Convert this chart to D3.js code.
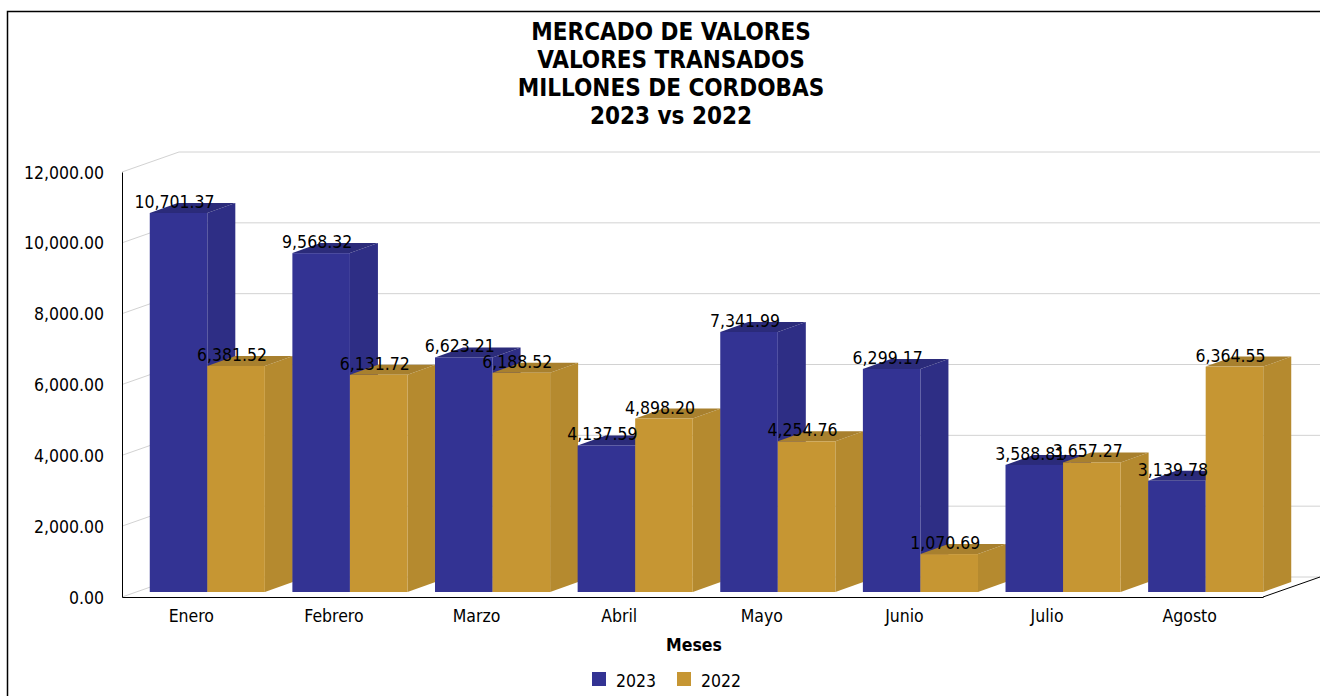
<!DOCTYPE html>
<html lang="en">
<head>
<meta charset="utf-8">
<title>Mercado de valores</title>
<script src="https://d3js.org/d3.v7.min.js"></script>
<style>
html, body { margin: 0; padding: 0; background: #fff; overflow: hidden; }
text { font-family: "DejaVu Sans", sans-serif; font-stretch: condensed; fill: #000; }
</style>
</head>
<body>
<script>
var months = ["Enero", "Febrero", "Marzo", "Abril", "Mayo", "Junio", "Julio", "Agosto"];
var values2023 = [10701.37, 9568.32, 6623.21, 4137.59, 7341.99, 6299.17, 3588.81, 3139.78];
var values2022 = [6381.52, 6131.72, 6188.52, 4898.20, 4254.76, 1070.69, 3657.27, 6364.55];
var seriesNames = ["2023", "2022"];
var yTicks = [0, 2000, 4000, 6000, 8000, 10000, 12000];
var titleLines = ["MERCADO DE VALORES", "VALORES TRANSADOS", "MILLONES DE CORDOBAS", "2023 vs 2022"];

var w = 1320, h = 696;
var left = 122, right = 1263, top3d = 172, bottom = 597;
// depth of the back wall, and of the bars
var wallX = 57, wallY = -20;
var barX = 28, barY = -10;
var frontX = 14, frontY = -5;

var colors = {
  "2023": { front: "#333393", side: "#2e2e85", top: "#2b2b7a" },
  "2022": { front: "#c69633", side: "#b58a2f", top: "#a8802e" }
};

var svg = d3.select("body").append("svg").attr("width", w).attr("height", h).style("display", "block");

// chart frame
svg.append("rect").attr("x", 7.5).attr("y", 11.5).attr("width", 1400).attr("height", 800)
  .attr("fill", "none").attr("stroke", "#000").attr("stroke-width", 1.5);

var x = d3.scaleBand().domain(months).range([left, right]).paddingInner(0.193).paddingOuter(0.0965);
var y = d3.scaleLinear().domain([0, 12000]).range([bottom, top3d]);
var xSeries = d3.scaleBand().domain(seriesNames).range([0, x.bandwidth()]);

// grid on the back wall + left wall
var grid = svg.append("g");
grid.selectAll(".back").data(yTicks).enter().append("line")
  .attr("x1", left + wallX).attr("x2", right + wallX)
  .attr("y1", function(d) { return y(d) + wallY; })
  .attr("y2", function(d) { return y(d) + wallY; })
  .attr("stroke", "#d2d2d2");
grid.selectAll(".wall").data(yTicks).enter().append("line")
  .attr("x1", left).attr("x2", left + wallX)
  .attr("y1", function(d) { return y(d); })
  .attr("y2", function(d) { return y(d) + wallY; })
  .attr("stroke", "#d2d2d2");

// axes
var yAxis = d3.axisLeft(y).tickValues(yTicks).tickSize(0).tickPadding(18).tickFormat(d3.format(",.2f"));
var gy = svg.append("g").attr("transform", "translate(" + left + ",0)").call(yAxis);
gy.select(".domain").attr("stroke", "#000");
gy.selectAll("text").attr("font-size", 17.5).attr("dy", "0.35em");
gy.attr("font-family", null);

var xAxis = d3.axisBottom(x).tickSize(0).tickPadding(13);
var gx = svg.append("g").attr("transform", "translate(0," + bottom + ")").call(xAxis);
gx.select(".domain").attr("stroke", "#000");
gx.selectAll("text").attr("font-size", 17.5).attr("dx", -2);
gx.attr("font-family", null);
svg.append("line")
  .attr("x1", right).attr("y1", bottom).attr("x2", right + wallX).attr("y2", bottom + wallY)
  .attr("stroke", "#000");

// bars, left to right so each one covers the side of the previous one
var rows = [];
months.forEach(function(m, i) {
  rows.push({ month: m, name: "2023", value: values2023[i] });
  rows.push({ month: m, name: "2022", value: values2022[i] });
});
var bx = function(d) { return x(d.month) + xSeries(d.name) + frontX; };
var by = function(d) { return y(d.value) + frontY; };
var base = y(0) + frontY;
var bw = xSeries.bandwidth();

var bars = svg.append("g").selectAll("g").data(rows).enter().append("g");
bars.append("path")
  .attr("fill", function(d) { return colors[d.name].side; })
  .attr("d", function(d) {
    var x1 = bx(d) + bw, t = by(d);
    return "M" + x1 + "," + t + "L" + (x1 + barX) + "," + (t + barY) + "L" + (x1 + barX) + "," + (base + barY) + "L" + x1 + "," + base + "Z";
  });
bars.append("path")
  .attr("fill", function(d) { return colors[d.name].top; })
  .attr("d", function(d) {
    var x0 = bx(d), t = by(d);
    return "M" + x0 + "," + t + "L" + (x0 + barX) + "," + (t + barY) + "L" + (x0 + bw + barX) + "," + (t + barY) + "L" + (x0 + bw) + "," + t + "Z";
  });
bars.append("rect")
  .attr("x", bx).attr("y", by).attr("width", bw)
  .attr("height", function(d) { return base - by(d); })
  .attr("fill", function(d) { return colors[d.name].front; });

// value labels on top of everything
svg.append("g").selectAll("text").data(rows).enter().append("text")
  .attr("x", function(d) { return bx(d) + bw / 2 - 4; })
  .attr("y", function(d) { return by(d) - 5; })
  .attr("text-anchor", "middle").attr("font-size", 17.5)
  .text(function(d) { return d3.format(",.2f")(d.value); });

// title
svg.append("g").selectAll("text").data(titleLines).enter().append("text")
  .attr("x", 671).attr("y", function(d, i) { return 40 + i * 28; })
  .attr("text-anchor", "middle").attr("font-size", 24).attr("font-weight", "bold")
  .text(function(d) { return d; });

svg.append("text").attr("x", 694).attr("y", 651).attr("text-anchor", "middle")
  .attr("font-size", 17.5).attr("font-weight", "bold").text("Meses");

// legend
var legend = svg.append("g").selectAll("g").data(seriesNames).enter().append("g")
  .attr("transform", function(d, i) { return "translate(" + (592 + i * 85) + ",672)"; });
legend.append("rect").attr("width", 14).attr("height", 14)
  .attr("fill", function(d) { return colors[d].front; });
legend.append("text").attr("x", 24).attr("y", 15).attr("font-size", 17.5)
  .text(function(d) { return d; });
</script>
</body>
</html>
